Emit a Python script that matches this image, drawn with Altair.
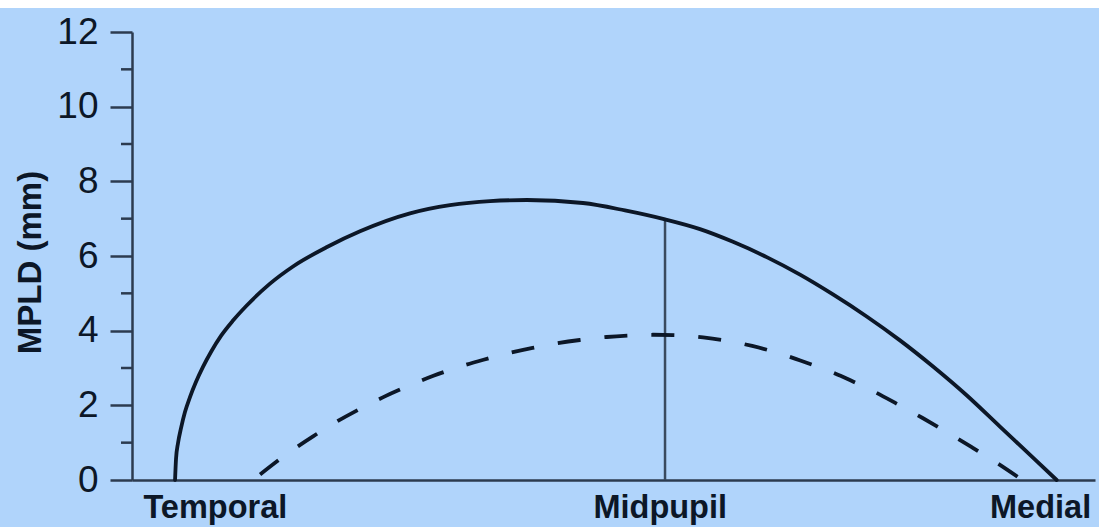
import altair as alt
import pandas as pd

# Position across the lid (0 = left end of the axis, 100 = right end)
solid_x = [4.47, 4.57, 4.78, 5.09, 5.50, 6.02, 6.65, 7.37, 8.20, 9.24, 10.49,
           11.94, 14.33, 16.72, 20.25, 23.68, 28.87, 33.02, 37.18, 41.02, 46.83,
           51.19, 55.35, 58.98, 62.41, 65.91, 69.37, 72.79, 76.29, 79.75, 83.18,
           86.67, 90.13, 93.56, 96.02]
solid_y = [0.0, 0.56, 0.99, 1.39, 1.82, 2.22, 2.63, 3.03, 3.43, 3.86, 4.27,
           4.68, 5.26, 5.72, 6.24, 6.66, 7.14, 7.36, 7.47, 7.50, 7.42,
           7.22, 6.98, 6.72, 6.38, 5.97, 5.50, 4.97, 4.38, 3.74, 3.04,
           2.27, 1.43, 0.60, 0.0]

dashed_x = [13.3, 16.1, 18.8, 21.3, 23.7, 26.1, 28.9, 31.3, 34.1, 36.5, 39.0,
            41.6, 44.1, 46.5, 49.3, 51.7, 54.1, 56.5, 59.3, 61.8, 64.4, 67.0,
            69.4, 72.2, 74.6, 77.2, 79.5, 82.1, 84.7, 87.2, 89.8, 92.0]
dashed_y = [0.15, 0.70, 1.17, 1.57, 1.91, 2.22, 2.54, 2.79, 3.04, 3.22, 3.39,
            3.54, 3.66, 3.75, 3.83, 3.87, 3.89, 3.88, 3.82, 3.73, 3.59, 3.41,
            3.20, 2.94, 2.67, 2.35, 2.03, 1.66, 1.27, 0.88, 0.46, 0.08]

# Landmarks along the x axis
landmark_names = ["Temporal", "Midpupil", "Medial"]
landmark_pos = [8.6, 54.8, 94.3]

# Midpupil reference line
midpupil_x = 55.35

y_major = [0, 2, 4, 6, 8, 10, 12]
y_minor = [1, 3, 5, 7, 9, 11]

BG = "#b0d4fb"
INK = "#0c1727"
AXIS = "#2c3b4f"
FONT = "Liberation Sans"

solid = pd.DataFrame({"x": solid_x, "y": solid_y})
dashed = pd.DataFrame({"x": dashed_x, "y": dashed_y})
mid_y = solid_y[solid_x.index(midpupil_x)]
rule_df = pd.DataFrame({"x": [midpupil_x], "y": [0.0], "y2": [mid_y]})
minor_df = pd.DataFrame({"y": y_minor})

label_expr = " : ".join(
    f"datum.value === {p} ? '{n}'" for n, p in zip(landmark_names, landmark_pos)
) + " : ''"

x_scale = alt.Scale(domain=[0, 100], nice=False, zero=False)
y_scale = alt.Scale(domain=[0, 12], nice=False)

x_axis = alt.Axis(
    values=landmark_pos, labelExpr=label_expr, title=None, ticks=False,
    grid=False, domainColor=AXIS, domainWidth=2.5,
    labelFont=FONT, labelFontSize=32.5, labelFontWeight="bold",
    labelColor=INK, labelPadding=11, labelFlush=False, labelOverlap=False,
)
y_axis = alt.Axis(
    values=y_major, tickSize=22,
    tickColor=AXIS, tickWidth=2.5, grid=False, domainColor=AXIS, domainWidth=2.5,
    labelFont=FONT, labelFontSize=37, labelColor=INK, labelPadding=12,
    labelFlush=False, labelOverlap=False,
    title="MPLD (mm)", titleFont=FONT, titleFontSize=33, titleFontWeight="bold",
    titleColor=INK, titleX=-102, titleY=230, titleAngle=-90,
    titleAlign="center", titleBaseline="middle",
)

base_rule = alt.Chart(rule_df).mark_rule(color="#3a4a5e", strokeWidth=2.5).encode(
    x=alt.X("x:Q", scale=x_scale, axis=x_axis),
    y=alt.Y("y:Q", scale=y_scale, axis=y_axis),
    y2="y2:Q",
)

# Short unlabeled ticks at the odd values of the y axis
minor_ticks = alt.Chart(minor_df).mark_rule(color=AXIS, strokeWidth=2.5).encode(
    x=alt.value(-11), x2=alt.value(0), y=alt.Y("y:Q", scale=y_scale)
)

solid_line = alt.Chart(solid).mark_line(
    color=INK, strokeWidth=3.8, interpolate="monotone", strokeCap="round"
).encode(x=alt.X("x:Q", scale=x_scale), y=alt.Y("y:Q", scale=y_scale))

dashed_line = alt.Chart(dashed).mark_line(
    color=INK, strokeWidth=3.8, interpolate="monotone", strokeDash=[23, 24]
).encode(x=alt.X("x:Q", scale=x_scale), y=alt.Y("y:Q", scale=y_scale))

top_strip = alt.Chart(alt.Data(values=[{}])).mark_rect(color="white", clip=False).encode(
    x=alt.value(-132), x2=alt.value(970), y=alt.value(-32), y2=alt.value(-24)
)

chart = alt.layer(top_strip, base_rule, minor_ticks, solid_line, dashed_line).properties(
    width=963, height=448,
    autosize=alt.AutoSizeParams(type="none"),
    padding={"left": 132, "top": 32, "right": 4, "bottom": 47},
    background=BG,
).configure_view(strokeWidth=0)

chart.save("out.html", embed_options={"renderer": "svg", "actions": False})
